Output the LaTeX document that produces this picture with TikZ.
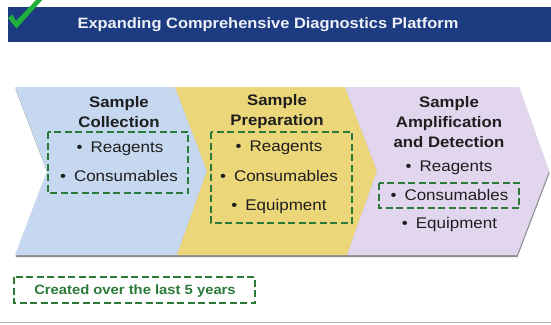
\documentclass[tikz,border=0pt]{standalone}
\usepackage{fontspec}
\setmainfont[FakeStretch=1.1]{Liberation Sans}
\definecolor{navy}{HTML}{1D3B80}
\definecolor{cblue}{HTML}{C6D7F0}
\definecolor{cyellow}{HTML}{ECD67A}
\definecolor{cpurple}{HTML}{E2D6EE}
\definecolor{dgreen}{HTML}{2B7A39}
\definecolor{checkgreen}{HTML}{1FB03C}
\definecolor{txt}{HTML}{1E1E1E}
\definecolor{titletxt}{HTML}{EEF2F8}
\tikzset{
  titletext/.style={text=titletxt, font=\fontsize{15}{17}\selectfont\bfseries, inner sep=0pt},
  headtext/.style={text=txt, font=\fontsize{15.3}{20}\selectfont\bfseries, align=center, inner sep=0pt},
  itemtext/.style={text=txt, font=\fontsize{15.5}{18}\selectfont, inner sep=0pt, text height=11bp, text depth=3bp},
  notetext/.style={text=dgreen, font=\fontsize{13.5}{15}\selectfont\bfseries, inner sep=0pt},
  dashbox/.style={draw=dgreen, line width=2.4bp, dash pattern=on 7bp off 3.5bp},
  chevshadow/.style={fill=black!45},
}
\newcommand{\bul}{•\hspace{8bp}}
\begin{document}
\begin{tikzpicture}[x=1bp,y=-1bp]
\useasboundingbox (0,0) rectangle (551,324);
\fill[white] (0,0) rectangle (551,324);
% title bar
\fill[navy] (8,7) rectangle (551,42);
\node[titletext] (title) at (268,25) {Expanding Comprehensive Diagnostics Platform};
% check mark
\fill[checkgreen] (8,18) -- (12.5,14.5) -- (16,21) -- (38,-2) -- (44,-2) -- (16.5,28.5) -- cycle;
% shadows
\fill[chevshadow] (15.5,89) -- (175.5,89) -- (207.5,173) -- (177.5,257) -- (15.5,257) -- (47.5,173) -- cycle;
\fill[chevshadow] (175.5,89) -- (345.5,89) -- (377.5,173) -- (347.5,257) -- (177.5,257) -- (207.5,173) -- cycle;
\fill[chevshadow] (345.5,89) -- (519.5,89) -- (549.5,173) -- (517.5,257) -- (347.5,257) -- (377.5,173) -- cycle;
% chevrons
\fill[cblue] (15,87) -- (175,87) -- (207,171) -- (177,255) -- (15,255) -- (47,171) -- cycle;
\fill[cyellow] (175,87) -- (345,87) -- (377,171) -- (347,255) -- (177,255) -- (207,171) -- cycle;
\fill[cpurple] (345,87) -- (519,87) -- (549,171) -- (517,255) -- (347,255) -- (377,171) -- cycle;
% chevron 1
\node[headtext] (h1) at (119,112) {Sample\\Collection};
\node[itemtext] (r1) at (120,148) {\bul Reagents};
\node[itemtext] (c1) at (119,177) {\bul Consumables};
\draw[dashbox] (48,132) rectangle (188,193);
% chevron 2
\node[headtext] (h2) at (277,112) {Sample\\Preparation};
\node[itemtext] (r2) at (279,147) {\bul Reagents};
\node[itemtext] (c2) at (279,177) {\bul Consumables};
\node[itemtext] (e2) at (279,206) {\bul Equipment};
\draw[dashbox] (211,132) rectangle (352,223);
% chevron 3
\node[headtext] (h3) at (449,122) {Sample\\Amplification\\and Detection};
\node[itemtext] (r3) at (449,167) {\bul Reagents};
\node[itemtext] (c3) at (449.5,196) {\bul Consumables};
\node[itemtext] (e3) at (449.5,224) {\bul Equipment};
\draw[dashbox] (379,183) rectangle (519,208);
% note
\draw[dashbox] (14,277) rectangle (255,303);
\node[notetext] (note) at (135,291) {Created over the last 5 years};
% bottom rule
\draw[black!30, line width=1bp] (0,322) -- (551,322);
\end{tikzpicture}
\end{document}
